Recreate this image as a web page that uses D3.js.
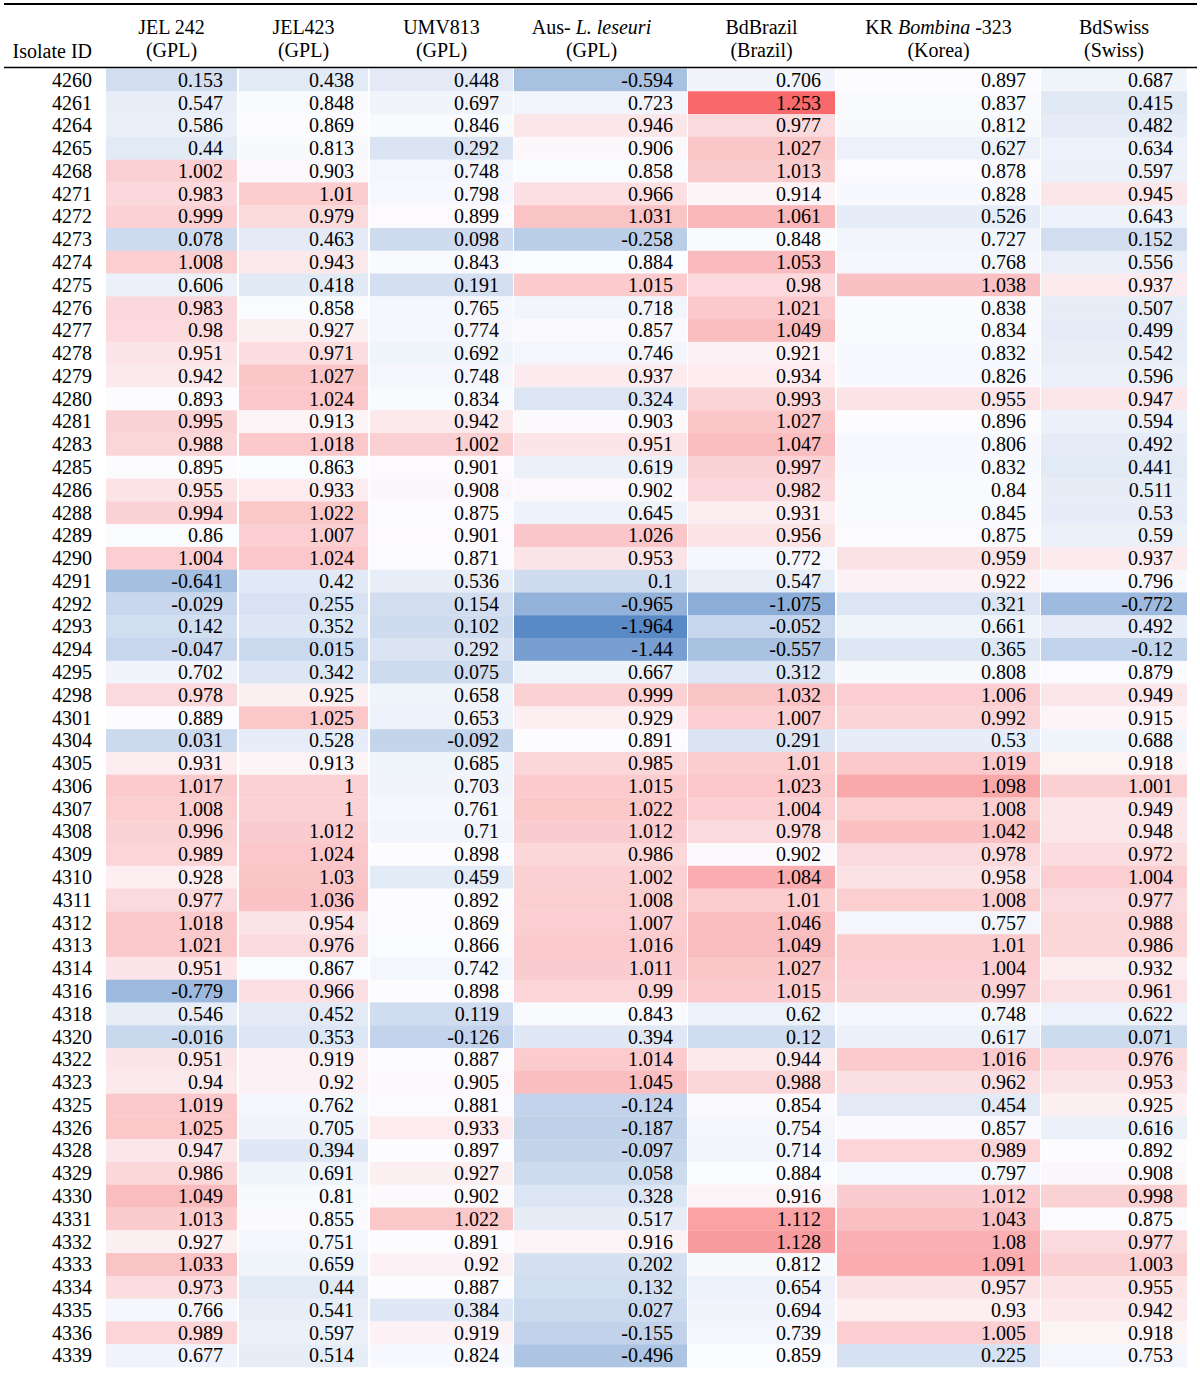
<!DOCTYPE html>
<html>
<head>
<meta charset="utf-8">
<script src="https://cdn.jsdelivr.net/npm/d3@7"></script>
<style>
  html, body { margin: 0; padding: 0; background: #ffffff; }
  svg { display: block; }
  text { font-family: "Liberation Serif", "Times New Roman", serif; fill: #000; }
</style>
</head>
<body>
<svg id="chart" width="1200" height="1373"></svg>
<script>
// ---------- DATA ----------
const isolateIds = ["4260","4261","4264","4265","4268","4271","4272","4273","4274","4275","4276","4277","4278","4279","4280","4281","4283","4285","4286","4288","4289","4290","4291","4292","4293","4294","4295","4298","4301","4304","4305","4306","4307","4308","4309","4310","4311","4312","4313","4314","4316","4318","4320","4322","4323","4325","4326","4328","4329","4330","4331","4332","4333","4334","4335","4336","4339"];

const jel242 = [0.153,0.547,0.586,0.44,1.002,0.983,0.999,0.078,1.008,0.606,0.983,0.98,0.951,0.942,0.893,0.995,0.988,0.895,0.955,0.994,0.86,1.004,-0.641,-0.029,0.142,-0.047,0.702,0.978,0.889,0.031,0.931,1.017,1.008,0.996,0.989,0.928,0.977,1.018,1.021,0.951,-0.779,0.546,-0.016,0.951,0.94,1.019,1.025,0.947,0.986,1.049,1.013,0.927,1.033,0.973,0.766,0.989,0.677];
const jel423 = [0.438,0.848,0.869,0.813,0.903,1.01,0.979,0.463,0.943,0.418,0.858,0.927,0.971,1.027,1.024,0.913,1.018,0.863,0.933,1.022,1.007,1.024,0.42,0.255,0.352,0.015,0.342,0.925,1.025,0.528,0.913,1,1,1.012,1.024,1.03,1.036,0.954,0.976,0.867,0.966,0.452,0.353,0.919,0.92,0.762,0.705,0.394,0.691,0.81,0.855,0.751,0.659,0.44,0.541,0.597,0.514];
const umv813 = [0.448,0.697,0.846,0.292,0.748,0.798,0.899,0.098,0.843,0.191,0.765,0.774,0.692,0.748,0.834,0.942,1.002,0.901,0.908,0.875,0.901,0.871,0.536,0.154,0.102,0.292,0.075,0.658,0.653,-0.092,0.685,0.703,0.761,0.71,0.898,0.459,0.892,0.869,0.866,0.742,0.898,0.119,-0.126,0.887,0.905,0.881,0.933,0.897,0.927,0.902,1.022,0.891,0.92,0.887,0.384,0.919,0.824];
const ausLeseuri = [-0.594,0.723,0.946,0.906,0.858,0.966,1.031,-0.258,0.884,1.015,0.718,0.857,0.746,0.937,0.324,0.903,0.951,0.619,0.902,0.645,1.026,0.953,0.1,-0.965,-1.964,-1.44,0.667,0.999,0.929,0.891,0.985,1.015,1.022,1.012,0.986,1.002,1.008,1.007,1.016,1.011,0.99,0.843,0.394,1.014,1.045,-0.124,-0.187,-0.097,0.058,0.328,0.517,0.916,0.202,0.132,0.027,-0.155,-0.496];
const bdBrazil = [0.706,1.253,0.977,1.027,1.013,0.914,1.061,0.848,1.053,0.98,1.021,1.049,0.921,0.934,0.993,1.027,1.047,0.997,0.982,0.931,0.956,0.772,0.547,-1.075,-0.052,-0.557,0.312,1.032,1.007,0.291,1.01,1.023,1.004,0.978,0.902,1.084,1.01,1.046,1.049,1.027,1.015,0.62,0.12,0.944,0.988,0.854,0.754,0.714,0.884,0.916,1.112,1.128,0.812,0.654,0.694,0.739,0.859];
const krBombina = [0.897,0.837,0.812,0.627,0.878,0.828,0.526,0.727,0.768,1.038,0.838,0.834,0.832,0.826,0.955,0.896,0.806,0.832,0.84,0.845,0.875,0.959,0.922,0.321,0.661,0.365,0.808,1.006,0.992,0.53,1.019,1.098,1.008,1.042,0.978,0.958,1.008,0.757,1.01,1.004,0.997,0.748,0.617,1.016,0.962,0.454,0.857,0.989,0.797,1.012,1.043,1.08,1.091,0.957,0.93,1.005,0.225];
const bdSwiss = [0.687,0.415,0.482,0.634,0.597,0.945,0.643,0.152,0.556,0.937,0.507,0.499,0.542,0.596,0.947,0.594,0.492,0.441,0.511,0.53,0.59,0.937,0.796,-0.772,0.492,-0.12,0.879,0.949,0.915,0.688,0.918,1.001,0.949,0.948,0.972,1.004,0.977,0.988,0.986,0.932,0.961,0.622,0.071,0.976,0.953,0.925,0.616,0.892,0.908,0.998,0.875,0.977,1.003,0.955,0.942,0.918,0.753];

const seriesKeys = ["JEL242","JEL423","UMV813","Aus","BdBrazil","KR","BdSwiss"];
const seriesValues = [jel242, jel423, umv813, ausLeseuri, bdBrazil, krBombina, bdSwiss];
// header labels: line 1 as [text, italic] segments, line 2 plain
const headerLine1 = [
  [["JEL 242", false]],
  [["JEL423", false]],
  [["UMV813", false]],
  [["Aus- ", false], ["L. leseuri", true]],
  [["BdBrazil", false]],
  [["KR ", false], ["Bombina", true], [" -323", false]],
  [["BdSwiss", false]]
];
const headerLine2 = ["(GPL)","(GPL)","(GPL)","(GPL)","(Brazil)","(Korea)","(Swiss)"];
const idHeader = "Isolate ID";

// ---------- LAYOUT ----------
const colLeft  = [106, 239, 370, 514, 688, 837, 1041];
const colRight = [237, 368, 513, 687, 835, 1040, 1187];
const headerShift = [0, 0, 0, -9, 0, 0, 0];
const textPad = 14;
const fontSize = 20;

const svg = d3.select("#chart");

const y = d3.scaleBand().domain(isolateIds).range([68.5, 1367]).padding(0);
const xLeft = d3.scaleOrdinal().domain(seriesKeys).range(colLeft);
const xRight = d3.scaleOrdinal().domain(seriesKeys).range(colRight);

const all = seriesValues.flat();
const color = d3.scaleLinear()
  .domain([d3.min(all), d3.median(all), d3.max(all)])
  .range(["#5A8AC6", "#FCFCFF", "#F8696B"])
  .interpolate(d3.interpolateRgb);

// cells
const cells = [];
seriesKeys.forEach((k, ci) => {
  isolateIds.forEach((id, ri) => cells.push({key: k, id: id, v: seriesValues[ci][ri]}));
});

svg.append("g").selectAll("rect").data(cells).join("rect")
  .attr("x", d => xLeft(d.key))
  .attr("y", d => y(d.id))
  .attr("width", d => xRight(d.key) - xLeft(d.key))
  .attr("height", y.bandwidth() + 0.3)
  .attr("fill", d => color(d.v));

svg.append("g").selectAll("text").data(cells).join("text")
  .attr("x", d => xRight(d.key) - textPad)
  .attr("y", d => y(d.id) + y.bandwidth() * 0.8)
  .attr("text-anchor", "end")
  .attr("font-size", fontSize)
  .text(d => String(d.v));

// isolate ids
svg.append("g").selectAll("text").data(isolateIds).join("text")
  .attr("x", 92)
  .attr("y", d => y(d) + y.bandwidth() * 0.8)
  .attr("text-anchor", "end")
  .attr("font-size", fontSize)
  .text(d => d);

// headers
const hdr = svg.append("g");
hdr.append("text").attr("x", 92).attr("y", 58).attr("text-anchor", "end")
  .attr("font-size", fontSize).text(idHeader);

seriesKeys.forEach((k, i) => {
  const cx = (xLeft(k) + xRight(k)) / 2 + headerShift[i];
  const t1 = hdr.append("text").attr("x", cx).attr("y", 34).attr("text-anchor", "middle")
    .attr("font-size", fontSize);
  headerLine1[i].forEach(seg => {
    t1.append("tspan").attr("font-style", seg[1] ? "italic" : "normal").text(seg[0]);
  });
  t1.attr("xml:space", "preserve");
  hdr.append("text").attr("x", cx).attr("y", 57).attr("text-anchor", "middle")
    .attr("font-size", fontSize).text(headerLine2[i]);
});

// rules
svg.append("line").attr("x1", 4).attr("x2", 1197).attr("y1", 4).attr("y2", 4)
  .attr("stroke", "#000").attr("stroke-width", 2);
svg.append("line").attr("x1", 4).attr("x2", 1197).attr("y1", 67.5).attr("y2", 67.5)
  .attr("stroke", "#000").attr("stroke-width", 1.5);
</script>
</body>
</html>
